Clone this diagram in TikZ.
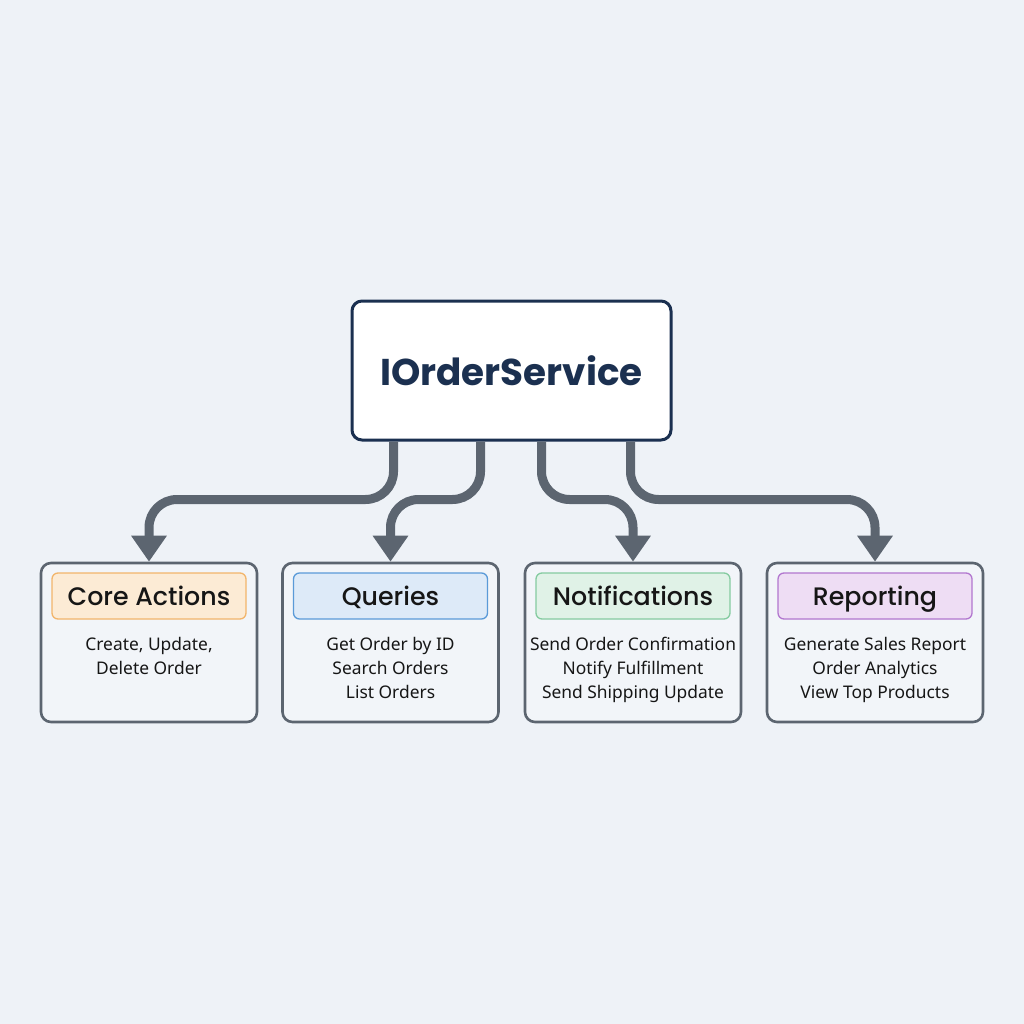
\documentclass[tikz,border=0pt]{standalone}
\usepackage{fontspec}
\setmainfont{Noto Sans}
\newfontfamily\popfont{Poppins}
\newfontfamily\popmed{Poppins Medium}
\usetikzlibrary{arrows.meta}
\definecolor{bgc}{HTML}{EEF2F7}
\definecolor{navy}{HTML}{1B3050}
\definecolor{slate}{HTML}{5C6570}
\definecolor{orfill}{HTML}{FCEBD5}\definecolor{ordraw}{HTML}{F2B56B}
\definecolor{blfill}{HTML}{DDEAF8}\definecolor{bldraw}{HTML}{5A9AD8}
\definecolor{grfill}{HTML}{E0F2E7}\definecolor{grdraw}{HTML}{84CBA0}
\definecolor{pufill}{HTML}{EEDDF4}\definecolor{pudraw}{HTML}{B277CF}
\definecolor{txt}{HTML}{161616}
\tikzset{
  mainbox/.style={draw=navy, line width=3pt, fill=white, rounded corners=10pt,
    minimum width=319pt, minimum height=139pt, inner sep=0pt,
    font=\popfont\bfseries\fontsize{37.3}{40}\selectfont, text=navy},
  groupbox/.style={draw=slate, line width=2.6pt, fill=bgc!75!white, rounded corners=10pt,
    minimum width=216pt, minimum height=159pt, inner sep=0pt},
  pill/.style={line width=1.3pt, rounded corners=6pt, minimum width=194pt, minimum height=46pt,
    inner sep=0pt, text height=21pt, text depth=3pt,
    font=\popmed\fontsize{25.3}{28}\selectfont, text=txt},
  body/.style={align=center, font=\fontsize{17.4}{24}\selectfont, text=txt, inner sep=0pt, anchor=north},
  conn/.style={draw=slate, line width=9pt, rounded corners=28pt,
    -{Triangle[width=34pt,length=26pt]}}
}
\begin{document}
\begin{tikzpicture}[x=1pt,y=-1pt]
\fill[bgc] (0,0) rectangle (1024,1024);
\useasboundingbox (0,0) rectangle (1024,1024);

\node[mainbox] (main) at (511.5,370.5) {IOrderService};

\node[groupbox] (b1) at (149,642.5) {};
\node[groupbox] (b2) at (390.5,642.5) {};
\node[groupbox] (b3) at (633,642.5) {};
\node[groupbox] (b4) at (875,642.5) {};

\node[pill, draw=ordraw, fill=orfill] (p1) at (149,596) {Core Actions};
\node[pill, draw=bldraw, fill=blfill] (p2) at (390.5,596) {Queries};
\node[pill, draw=grdraw, fill=grfill] (p3) at (633,596) {Notifications};
\node[pill, draw=pudraw, fill=pufill] (p4) at (875,596) {Reporting};

\node[body] (t1) at (149,637) {Create, Update,\\Delete Order};
\node[body] (t2) at (390.5,637) {Get Order by ID\\Search Orders\\List Orders};
\node[body] (t3) at (633,637) {Send Order Confirmation\\Notify Fulfillment\\Send Shipping Update};
\node[body] (t4) at (875,637) {Generate Sales Report\\Order Analytics\\View Top Products};

\draw[conn] ([xshift=43pt]main.south west) -- ++(0,58) -| (b1.north);
\draw[conn] ([xshift=130pt]main.south west) -- ++(0,58) -| (b2.north);
\draw[conn] ([xshift=191pt]main.south west) -- ++(0,58) -| (b3.north);
\draw[conn] ([xshift=280pt]main.south west) -- ++(0,58) -| (b4.north);
\end{tikzpicture}
\end{document}
